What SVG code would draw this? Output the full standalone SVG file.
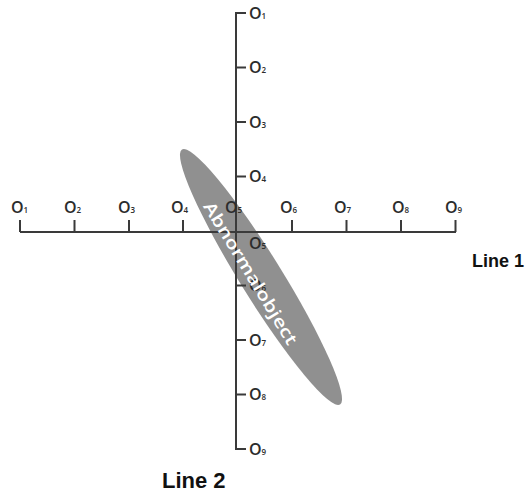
<svg xmlns="http://www.w3.org/2000/svg" width="530" height="495" viewBox="0 0 530 495">
<style>
.ax{stroke:#3a3a3a;stroke-width:2;fill:none}
.o{font-family:"Open Sans","DejaVu Sans",sans-serif;font-size:16px;font-weight:600;fill:#2c2c2c}
.s{font-size:8px}
.lbl{font-family:"Liberation Sans",Arial,sans-serif;font-weight:bold;fill:#111}
</style>
<rect width="530" height="495" fill="#fff"/>
<g id="object">
<ellipse cx="261" cy="277" rx="150" ry="21" transform="rotate(58.2 261 277)" fill="#909090"/>
</g>
<g id="connectors">
<path class="ax" d="M20 232H456M20 220V232M74.5 220V232M129 220V232M183 220V232M292 220V232M346.5 220V232M401 220V232M455.5 220V232"/>
<path class="ax" d="M246 13H236V449H246M236 67.5H246M236 122H246M236 176.5H246M236 285.5H246M236 340H246M236 394.5H246"/>
</g>
<g id="line1-labels" class="o">
<text x="11" y="213">O<tspan class="s">1</tspan></text>
<text x="64" y="213">O<tspan class="s">2</tspan></text>
<text x="118" y="213">O<tspan class="s">3</tspan></text>
<text x="171" y="213">O<tspan class="s">4</tspan></text>
<text x="225" y="213">O<tspan class="s">5</tspan></text>
<text x="280" y="213">O<tspan class="s">6</tspan></text>
<text x="334" y="213">O<tspan class="s">7</tspan></text>
<text x="392" y="213">O<tspan class="s">8</tspan></text>
<text x="445" y="213">O<tspan class="s">9</tspan></text>
</g>
<g id="line2-labels" class="o">
<text x="249" y="18.5">O<tspan class="s">1</tspan></text>
<text x="249" y="73">O<tspan class="s">2</tspan></text>
<text x="249" y="127.5">O<tspan class="s">3</tspan></text>
<text x="249" y="182">O<tspan class="s">4</tspan></text>
<text x="249" y="248.5">O<tspan class="s">5</tspan></text>
<text x="249" y="291">O<tspan class="s">6</tspan></text>
<text x="249" y="345.5">O<tspan class="s">7</tspan></text>
<text x="249" y="400">O<tspan class="s">8</tspan></text>
<text x="249" y="454.5">O<tspan class="s">9</tspan></text>
</g>
<g id="object-label">
<text x="251" y="273" transform="rotate(58.7 251 273)" text-anchor="middle" dominant-baseline="central" font-family="'Open Sans','DejaVu Sans',sans-serif" font-size="17" font-weight="600" fill="#fff" textLength="164" lengthAdjust="spacingAndGlyphs">Abnormalobject</text>
</g>
<g id="line1-title"><text class="lbl" x="472" y="267" font-size="18">Line 1</text></g>
<g id="line2-title"><text class="lbl" x="162" y="488" font-size="22">Line 2</text></g>
</svg>
